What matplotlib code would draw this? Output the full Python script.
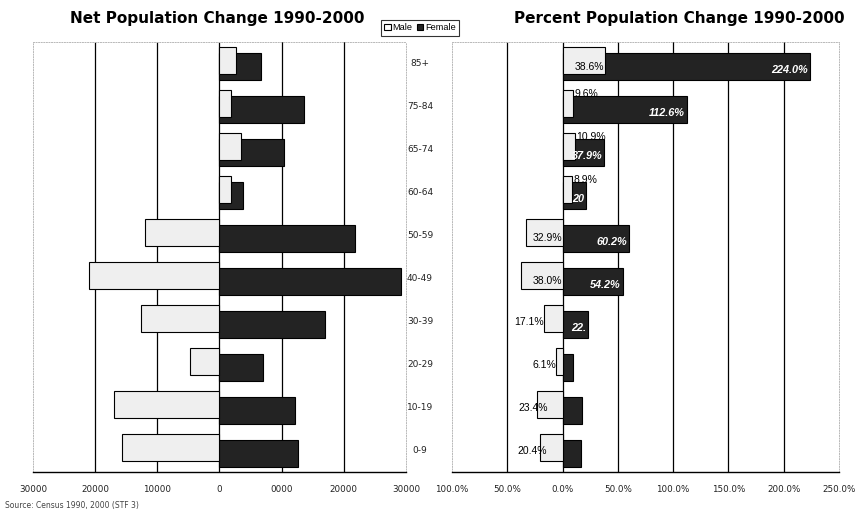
import matplotlib
matplotlib.use("Agg")
import matplotlib.pyplot as plt
from matplotlib.patches import Patch
from matplotlib.transforms import blended_transform_factory

plt.rcParams['font.family'] = ['Liberation Sans', 'DejaVu Sans']

# ---------------- data (top to bottom) ----------------
age_groups = ["85+", "75-84", "65-74", "60-64", "50-59", "40-49", "30-39", "20-29", "10-19", "0-9"]
male_net = [2700, 1900, 3400, 1800, -12000, -21000, -12700, -4800, -16900, -15700]
female_net = [6700, 13600, 10400, 3700, 21800, 29200, 16900, 7000, 12200, 12700]
male_pct = [38.6, 9.6, 10.9, 8.9, -32.9, -38.0, -17.1, -6.1, -23.4, -20.4]
female_pct = [224.0, 112.6, 37.9, 21.5, 60.2, 54.2, 22.9, 9.0, 17.9, 17.0]
male_pct_labels = ["38.6%", "9.6%", "10.9%", "8.9%", "32.9%", "38.0%", "17.1%", "6.1%", "23.4%", "20.4%"]
female_pct_labels = ["224.0%", "112.6%", "37.9%", "20", "60.2%", "54.2%", "22.", "", "", ""]
net_ticks = [-30000, -20000, -10000, 0, 10000, 20000, 30000]
net_tick_labels = ["30000", "20000", "10000", "0", "0000", "20000", "30000"]
pct_ticks = [-100, -50, 0, 50, 100, 150, 200, 250]
pct_tick_labels = ["100.0%", "50.0%", "0.0%", "50.0%", "100.0%", "150.0%", "200.0%", "250.0%"]

# ---------------- style ----------------
W, H = 858, 511
MALE_C = "#efefef"
FEMALE_C = "#232323"
BAR_H = 0.63
MALE_OFF = 0.07
FEMALE_OFF = -0.08
male_label_shift = [0, 0, 0, 0, 0, 0, 0, 0, 10, 6]

fig = plt.figure(figsize=(W / 100, H / 100), dpi=100)
axL = fig.add_axes([33 / W, 39 / H, 373 / W, 430 / H])
axR = fig.add_axes([452 / W, 39 / H, 387 / W, 430 / H])

n = len(age_groups)
ypos = [n - 1 - i for i in range(n)]


def style_axis(ax, xlim, ticks, labels, grid):
    ax.set_xlim(*xlim)
    ax.set_ylim(-0.5, n - 0.5)
    ax.set_yticks([])
    ax.set_xticks(ticks)
    ax.set_xticklabels(labels, fontsize=6.3, family='DejaVu Sans', color='#222222')
    ax.tick_params(axis='x', length=0, pad=9)
    for g in grid:
        ax.axvline(g, color='black', lw=0.9, zorder=0.5)
    for s in ['left', 'right', 'top']:
        ax.spines[s].set_color('#b8b8b8')
        ax.spines[s].set_linestyle(':')
        ax.spines[s].set_linewidth(0.7)
    ax.spines['bottom'].set_color('black')
    ax.spines['bottom'].set_linewidth(1.0)


# ---------------- left panel ----------------
style_axis(axL, (-30000, 30000), net_ticks, net_tick_labels, [-20000, -10000, 0, 10000, 20000])
axL.barh([y + FEMALE_OFF for y in ypos], female_net, height=BAR_H, color=FEMALE_C,
         edgecolor='black', linewidth=0.8, zorder=2)
axL.barh([y + MALE_OFF for y in ypos], male_net, height=BAR_H, color=MALE_C,
         edgecolor='black', linewidth=0.8, zorder=3)

trans = blended_transform_factory(axL.transAxes, axL.transData)
for y, lab in zip(ypos, age_groups):
    axL.text(1.0375, y, lab, transform=trans, ha='center', va='center',
             fontsize=6.5, family='DejaVu Sans', color='#222222', clip_on=False)

# ---------------- right panel ----------------
style_axis(axR, (-100, 250), pct_ticks, pct_tick_labels, [-50, 0, 50, 100, 150, 200])
axR.barh([y + FEMALE_OFF for y in ypos], female_pct, height=BAR_H, color=FEMALE_C,
         edgecolor='black', linewidth=0.8, zorder=2)
axR.barh([y + MALE_OFF for y in ypos], male_pct, height=BAR_H, color=MALE_C,
         edgecolor='black', linewidth=0.8, zorder=3)

for i, (y, v, lab) in enumerate(zip(ypos, male_pct, male_pct_labels)):
    if v > 0:
        if v > 30:
            axR.text(v - 1, y - 0.08, lab, ha='right', va='center', fontsize=7.5, zorder=5)
        else:
            axR.text(v + 1, y + 0.3, lab, ha='left', va='center', fontsize=7.5, zorder=5)
    else:
        if v < -30:
            axR.text(-0.5, y - 0.05, lab, ha='right', va='center', fontsize=7.5, zorder=5)
        else:
            axR.text(v + male_label_shift[i], y, lab, ha='right', va='center',
                     fontsize=7.5, zorder=5)

for y, v, lab in zip(ypos, female_pct, female_pct_labels):
    if lab:
        axR.text(v - 2, y - 0.15, lab, ha='right', va='center', fontsize=7.8,
                 fontweight='bold', fontstyle='italic', color='white', zorder=6)

# ---------------- titles, legend, source ----------------
fig.text(217 / W, 1 - 18 / H, "Net Population Change 1990-2000", ha='center', va='center',
         fontsize=11, fontweight='bold', family='DejaVu Sans')
fig.text(679 / W, 1 - 18 / H, "Percent Population Change 1990-2000", ha='center', va='center',
         fontsize=11, fontweight='bold', family='DejaVu Sans')

handles = [Patch(facecolor='white', edgecolor='black', linewidth=0.8),
           Patch(facecolor=FEMALE_C, edgecolor='black', linewidth=0.8)]
leg = fig.legend(handles, ["Male", "Female"], loc='center', bbox_to_anchor=(420 / W, 1 - 28 / H),
                 ncol=2, fontsize=6.6, frameon=True, fancybox=False, edgecolor='black',
                 handlelength=0.7, handleheight=0.7, handletextpad=0.2, columnspacing=0.5,
                 borderpad=0.35)
leg.get_frame().set_linewidth(0.8)

fig.text(5 / W, 6 / H, "Source: Census 1990, 2000 (STF 3)", ha='left', va='center',
         fontsize=5.5, family='DejaVu Sans', color='#444444')

fig.savefig("out.png", dpi=100)
